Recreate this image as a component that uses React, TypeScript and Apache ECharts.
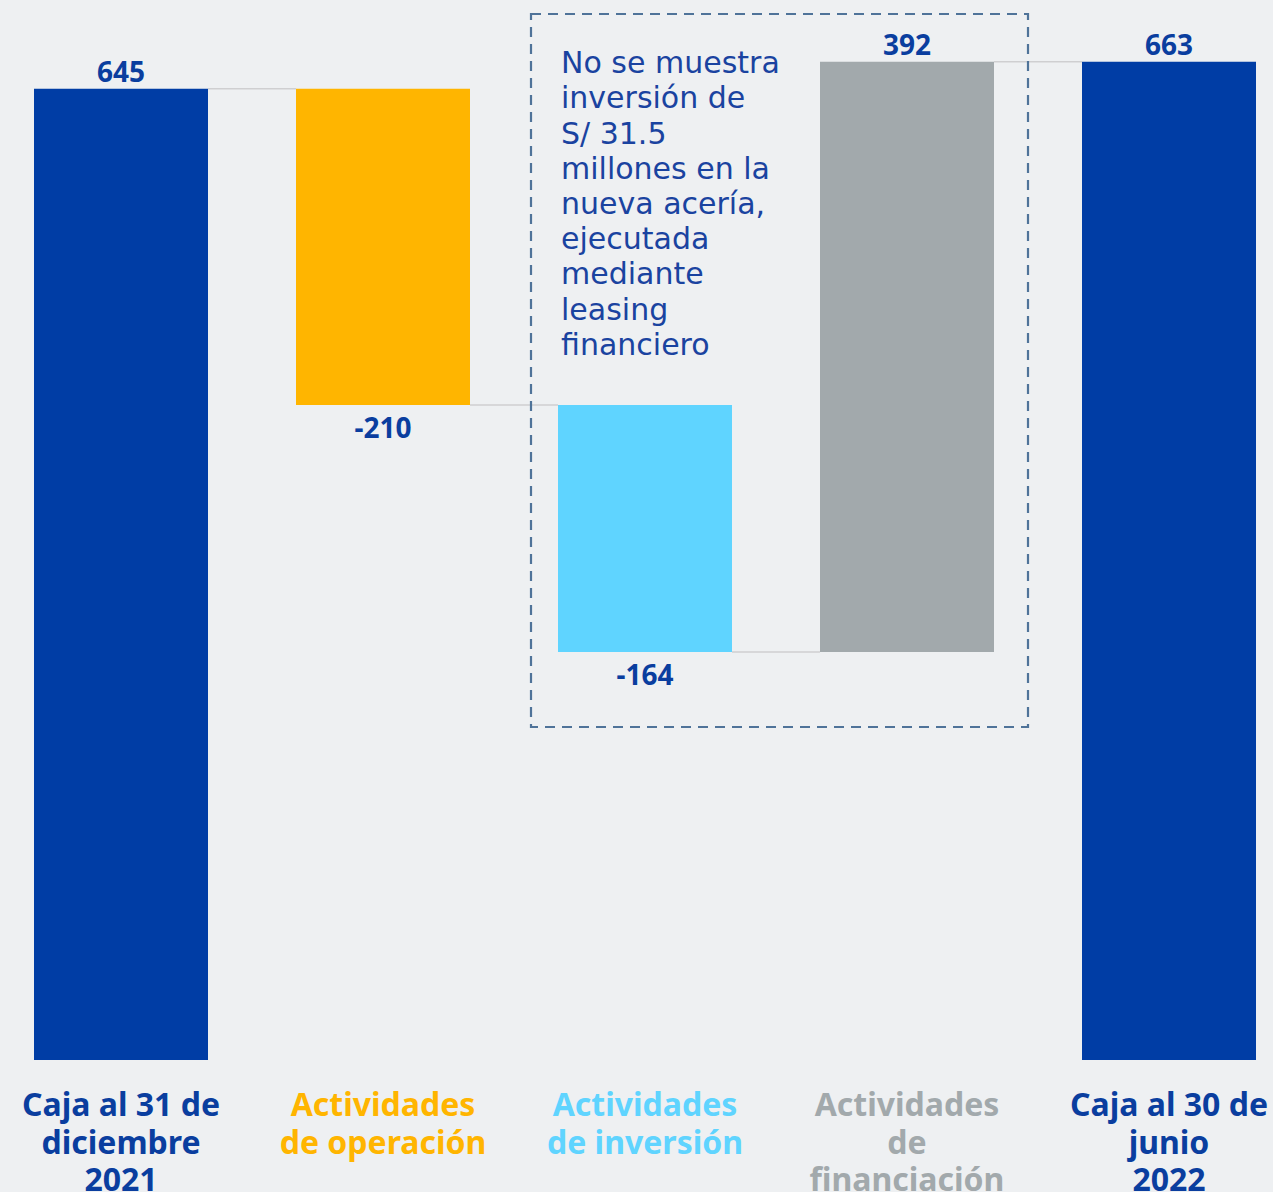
import React, { useEffect, useRef } from "react";
import * as echarts from "echarts";

const categories = [
  "Caja al 31 de\ndiciembre\n2021",
  "Actividades\nde operación",
  "Actividades\nde inversión",
  "Actividades\nde\nfinanciación",
  "Caja al 30 de\njunio\n2022",
];
const deltas = [645, -210, -164, 392, 663];
const isTotal = [true, false, false, false, true];
const barColors = ["#003DA5", "#FFB500", "#5FD4FF", "#A2A9AC", "#003DA5"];
const labelColors = ["#0A3E9F", "#FFB500", "#5FD4FF", "#A2A9AC", "#0A3E9F"];
const noteLines = [
  "No se muestra",
  "inversión de",
  "S/ 31.5",
  "millones en la",
  "nueva acería,",
  "ejecutada",
  "mediante",
  "leasing",
  "financiero",
];

export default function App() {
  const ref = useRef<HTMLDivElement>(null);
  useEffect(() => {
    document.body.style.margin = "0";
    const chart = echarts.init(ref.current!, null, { renderer: "svg" });

    const bases: number[] = [];
    const heights: number[] = [];
    const levels: number[] = [];
    let running = 0;
    deltas.forEach((d, i) => {
      if (isTotal[i]) {
        bases.push(0);
        heights.push(d);
        running = d;
      } else {
        const next = running + d;
        bases.push(Math.min(running, next));
        heights.push(Math.abs(d));
        running = next;
      }
      levels.push(running);
    });

    const connectorData = levels.slice(0, -1).map((lv, i) => [i, lv]);

    chart.setOption({
      animation: false,
      backgroundColor: "#EEF0F2",
      grid: {
        left: -10,
        right: -27,
        top: 0,
        bottom: 132,
        containLabel: false,
        outerBoundsMode: "none",
      },
      xAxis: {
        type: "category",
        data: categories,
        axisLine: { show: false },
        axisTick: { show: false },
        axisLabel: {
          interval: 0,
          margin: 25,
          hideOverlap: false,
          fontFamily: "Noto Sans",
          fontWeight: "bold",
          fontSize: 32,
          lineHeight: 37.5,
          color: (_v: string, idx: number) => labelColors[idx],
        },
      },
      yAxis: {
        type: "value",
        min: 0,
        max: 704,
        show: false,
        splitLine: { show: false },
      },
      series: [
        {
          type: "bar",
          stack: "w",
          data: bases,
          itemStyle: { color: "transparent" },
          barWidth: 174,
          silent: true,
        },
        {
          type: "bar",
          stack: "w",
          barWidth: 174,
          data: heights.map((h, i) => ({
            value: h,
            itemStyle: { color: barColors[i] },
            label: {
              show: true,
              position: deltas[i] < 0 ? "bottom" : "top",
              distance: deltas[i] < 0 ? 8 : 4,
              formatter: () => String(deltas[i]),
              fontFamily: "Noto Sans",
              fontWeight: "bold",
              fontSize: 28,
              color: "#0A3E9F",
            },
          })),
        },
        {
          type: "custom",
          data: connectorData,
          z: 1,
          renderItem: (params: any, api: any) => {
            const i = api.value(0);
            const lv = api.value(1);
            const p1 = api.coord([i, lv]);
            const p2 = api.coord([i + 1, lv]);
            const half = 87;
            return {
              type: "line",
              shape: { x1: p1[0] + half, y1: p1[1], x2: p2[0] - half, y2: p2[1] },
              style: { stroke: "#CFCFD1", lineWidth: 1.5 },
            };
          },
        },
      ],
      graphic: [
        {
          type: "rect",
          shape: { x: 531, y: 14, width: 497, height: 713 },
          style: {
            fill: "none",
            stroke: "#4F7399",
            lineWidth: 2.2,
            lineDash: [10, 7],
          },
          z: 10,
        },
        {
          type: "text",
          x: 561,
          y: 45,
          z: 10,
          style: {
            text: noteLines.join("\n"),
            fontFamily: "DejaVu Sans",
            fontSize: 30,
            lineHeight: 35.2,
            fill: "#1A43A0",
            verticalAlign: "top",
          },
        },
      ],
    });
    return () => chart.dispose();
  }, []);
  return (
    <div
      ref={ref}
      style={{ position: "absolute", left: 0, top: 0, width: 1273, height: 1192 }}
    />
  );
}
